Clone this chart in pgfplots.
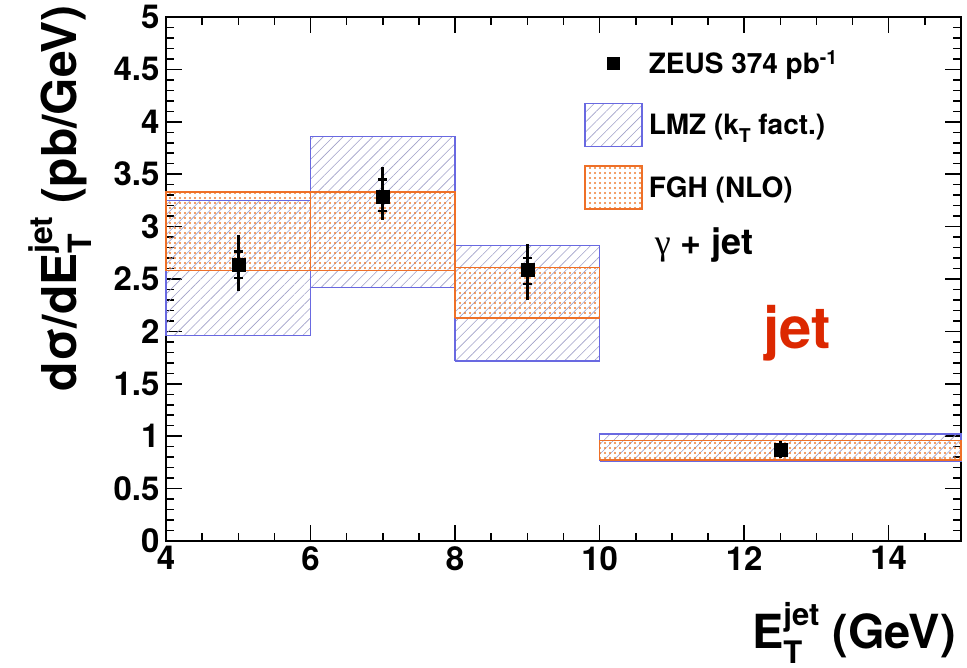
\documentclass[border=0pt]{standalone}
\usepackage{fontspec}
\setmainfont{TeX Gyre Heros}
\newfontfamily\greekserif{Liberation Serif}
\usepackage{pgfplots}
\pgfplotsset{compat=1.18}
\usepackage{pgfplotstable}
\usetikzlibrary{patterns.meta}

\definecolor{lmzblue}{RGB}{105,105,225}
\definecolor{hatchcol}{RGB}{160,160,200}
\definecolor{fghorange}{RGB}{238,112,40}
\definecolor{dotcol}{RGB}{238,125,50}
\definecolor{jetred}{RGB}{220,40,0}

% ZEUS data: x, y, total error (+/-), stat error (+/-)
\pgfplotstableread{
x    y     tp    tm    sp    sm
5    2.64  0.28  0.25  0.12  0.13
7    3.29  0.28  0.23  0.16  0.14
9    2.59  0.24  0.29  0.11  0.14
12.5 0.87  0.08  0.08  0.04  0.04
}\zeus

\pgfplotsset{
  lmzbox/.style={draw=lmzblue, line width=1.6pt, line join=miter,
    pattern={Lines[angle=45,distance=7pt,line width=0.6pt]}, pattern color=hatchcol, forget plot},
  fghbox/.style={draw=fghorange, line width=1.6pt, line join=miter,
    pattern={Dots[distance=5pt,radius=1.05pt]}, pattern color=dotcol, forget plot},
}

\newcommand\jetT[2]{\rlap{\raisebox{-0.3em}{\fontsize{#1}{#1}\selectfont T}}\raisebox{#2}{\fontsize{#1}{#1}\selectfont jet}}

\begin{document}
\begin{tikzpicture}
\begin{axis}[
  name=ax,
  scale only axis, width=795pt, height=524pt,
  xmin=4, xmax=15, ymin=0, ymax=5,
  clip=false,
  xtick={4,6,...,14}, minor xtick={4,4.5,...,15},
  ytick={0,0.5,...,5}, minor ytick={0,0.1,...,5},
  tick align=inside,
  major tick length=16pt, minor tick length=8pt,
  axis line style={line width=1.5pt},
  every tick/.style={black, line width=1.5pt},
  every minor tick/.style={black, line width=1.5pt},
  tick label style={font=\fontsize{33}{36}\selectfont\bfseries},
  /pgf/number format/assume math mode=true,
  xticklabel style={yshift=-2pt},
  yticklabel style={xshift=-3pt},
  xlabel={E\jetT{31}{0.5em}\ (GeV)},
  xlabel style={at={(rel axis cs:1,0)}, anchor=base east, xshift=-5pt, yshift=-108pt, inner sep=0pt,
    font=\fontsize{47}{49}\selectfont\bfseries},
  legend style={at={(rel axis cs:0.522,0.957)}, anchor=north west, draw=none, fill=none,
    font=\fontsize{28}{30}\selectfont\bfseries, row sep=18pt,
    /tikz/every odd column/.append style={column sep=4pt}},
  legend cell align=left,
]
% legend entries
\addlegendimage{legend image code/.code={
  \path[draw=none, fill=none] (0pt,-21.5pt) rectangle (57pt,21.5pt);
  \fill[black] (22.5pt,-6pt) rectangle (34.5pt,6pt);}}
\addlegendentry{ZEUS 374 pb\textsuperscript{-1}}
\addlegendimage{legend image code/.code={
  \draw[draw=lmzblue, line width=1.6pt, pattern={Lines[angle=45,distance=7pt,line width=0.6pt]}, pattern color=hatchcol]
    (0pt,-21.5pt) rectangle (57pt,21.5pt);}}
\addlegendentry{LMZ (k\raisebox{-0.3em}{\fontsize{19}{19}\selectfont T} fact.)}
\addlegendimage{legend image code/.code={
  \draw[draw=fghorange, line width=1.6pt, pattern={Dots[distance=5pt,radius=1.05pt]}, pattern color=dotcol]
    (0pt,-21.5pt) rectangle (57pt,21.5pt);}}
\addlegendentry{FGH (NLO)}

% LMZ (kT factorisation) bands
\addplot[lmzbox] coordinates {(4,1.96) (6,1.96) (6,3.25) (4,3.25) (4,1.96)};
\addplot[lmzbox] coordinates {(6,2.42) (8,2.42) (8,3.86) (6,3.86) (6,2.42)};
\addplot[lmzbox] coordinates {(8,1.72) (10,1.72) (10,2.82) (8,2.82) (8,1.72)};
\addplot[lmzbox] coordinates {(10,0.76) (15,0.76) (15,1.02) (10,1.02) (10,0.76)};
% FGH (NLO) bands
\addplot[fghbox] coordinates {(4,2.58) (6,2.58) (6,3.33) (4,3.33) (4,2.58)};
\addplot[fghbox] coordinates {(6,2.58) (8,2.58) (8,3.33) (6,3.33) (6,2.58)};
\addplot[fghbox] coordinates {(8,2.13) (10,2.13) (10,2.61) (8,2.61) (8,2.13)};
\addplot[fghbox] coordinates {(10,0.77) (15,0.77) (15,0.96) (10,0.96) (10,0.77)};

% ZEUS data: total errors
\addplot[forget plot, black, only marks, mark=square*, mark size=6.5pt,
  error bars/.cd, y dir=both, y explicit, error mark=none,
  error bar style={line width=3pt, black}]
  table[x=x, y=y, y error plus=tp, y error minus=tm] {\zeus};
% ZEUS data: statistical errors (caps)
\addplot[forget plot, black, only marks, mark=square*, mark size=6.5pt,
  error bars/.cd, y dir=both, y explicit,
  error bar style={line width=3pt, black},
  error mark options={rotate=90, line width=2.5pt, mark size=4.5pt, black}]
  table[x=x, y=y, y error plus=sp, y error minus=sm] {\zeus};

\node[anchor=base west, inner sep=0pt, font=\fontsize{36}{38}\selectfont\bfseries]
  at (axis cs:10.76,2.73) {{\greekserif\mdseries γ} + jet};
\node[anchor=base west, inner sep=0pt, font=\fontsize{58}{60}\selectfont\bfseries, text=jetred]
  at (axis cs:12.26,1.84) {jet};
\end{axis}
\node[rotate=90, anchor=base east, inner sep=0pt, font=\fontsize{48}{50}\selectfont\bfseries]
  at ([xshift=-89pt,yshift=12pt]ax.north west) {dσ/dE\jetT{32}{0.5em}\ (pb/GeV)};
\pgfresetboundingbox
\path[use as bounding box] ([xshift=-166pt,yshift=-127pt]ax.south west) rectangle ([xshift=6pt,yshift=17pt]ax.north east);
\end{tikzpicture}
\end{document}
